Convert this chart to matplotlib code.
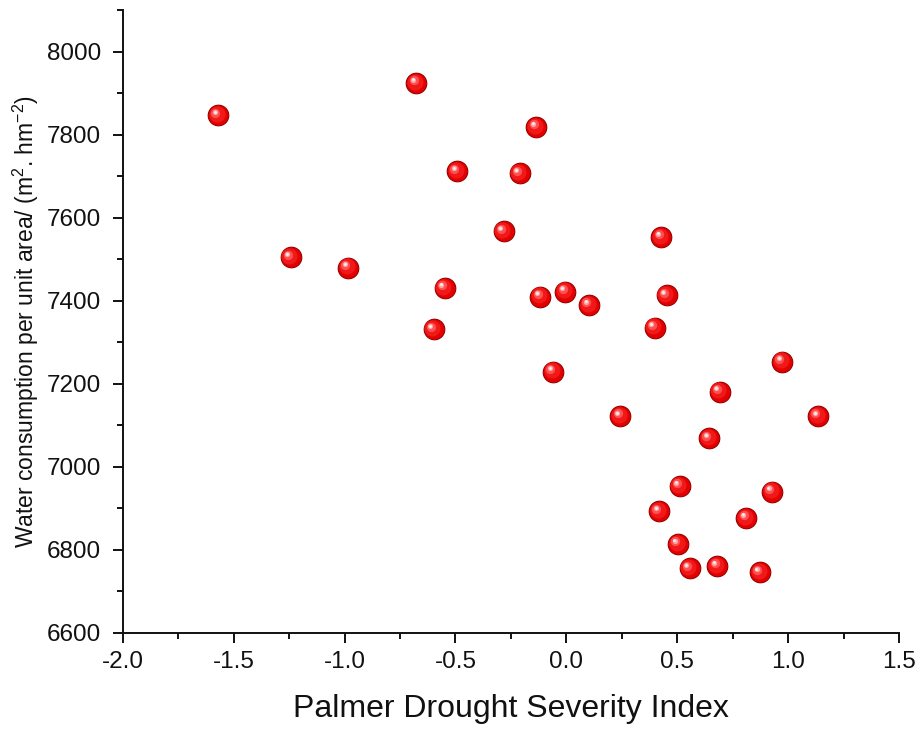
import matplotlib
matplotlib.use("Agg")
import matplotlib.pyplot as plt
from matplotlib.transforms import offset_copy
from matplotlib.ticker import MultipleLocator

plt.rcParams["font.family"] = ["Liberation Sans", "DejaVu Sans"]
plt.rcParams["mathtext.default"] = "regular"

# Palmer Drought Severity Index vs water consumption (m3/hm2)
pdsi = [-1.571, -0.677, -0.493, -0.283, -1.244, -0.985, -0.549, -0.599,
        -0.135, -0.211, 0.428, -0.117, -0.005, 0.102, 0.452, 0.398,
        -0.060, 0.973, 0.691, 0.244, 1.135, 0.643, 0.511, 0.927,
        0.418, 0.812, 0.503, 0.556, 0.681, 0.872]
water = [7847, 7925, 7712, 7567, 7505, 7480, 7431, 7331,
         7819, 7707, 7554, 7410, 7422, 7390, 7413, 7335,
         7229, 7253, 7181, 7122, 7122, 7068, 6954, 6940,
         6892, 6877, 6814, 6755, 6761, 6745]

x_ticks = [-2.0, -1.5, -1.0, -0.5, 0.0, 0.5, 1.0, 1.5]
y_ticks = [6600, 6800, 7000, 7200, 7400, 7600, 7800, 8000]

fig = plt.figure(figsize=(9.22, 7.36), dpi=100)
ax = fig.add_axes([0.1333, 0.1404, 0.8417, 0.8457])

# glossy sphere look: base ball + lighter layers shifted up-left
ax.scatter(pdsi, water, s=220, color="#e30000", edgecolors="#9a0000",
           linewidths=0.8, zorder=3)
layers = [(135, "#f01818", -1.2, 1.2),
          (45, "#ff5050", -2.6, 2.6),
          (14, "#ffa8a8", -3.2, 3.2),
          (4, "#fff0f0", -3.4, 3.4)]
for s, col, dx, dy in layers:
    tr = offset_copy(ax.transData, fig=fig, x=dx, y=dy, units="dots")
    ax.scatter(pdsi, water, s=s, color=col, linewidths=0, transform=tr,
               zorder=4)

ax.set_xlim(-2.0, 1.5)
ax.set_ylim(6600, 8100)
ax.set_xticks(x_ticks)
ax.set_xticklabels([f"{t:.1f}" for t in x_ticks])
ax.set_yticks(y_ticks)
ax.xaxis.set_minor_locator(MultipleLocator(0.25))
ax.yaxis.set_minor_locator(MultipleLocator(100))

for side in ["top", "right"]:
    ax.spines[side].set_visible(False)
for side in ["left", "bottom"]:
    ax.spines[side].set_linewidth(1.4)
    ax.spines[side].set_color("#111111")

ax.tick_params(which="major", direction="out", length=7.5, width=1.4,
               labelsize=17.5, colors="#111111")
ax.tick_params(which="minor", direction="out", length=4.5, width=1.4,
               colors="#111111")
ax.tick_params(axis="x", which="major", pad=6)
ax.tick_params(axis="y", which="major", pad=8)

ax.set_xlabel("Palmer Drought Severity Index", fontsize=23, labelpad=15,
              color="#111111")
ax.set_ylabel("Water consumption per unit area/ (m$^{2}$. hm$^{-2}$)",
              fontsize=16.5, labelpad=4, color="#111111")

fig.savefig("out.png", dpi=100)
